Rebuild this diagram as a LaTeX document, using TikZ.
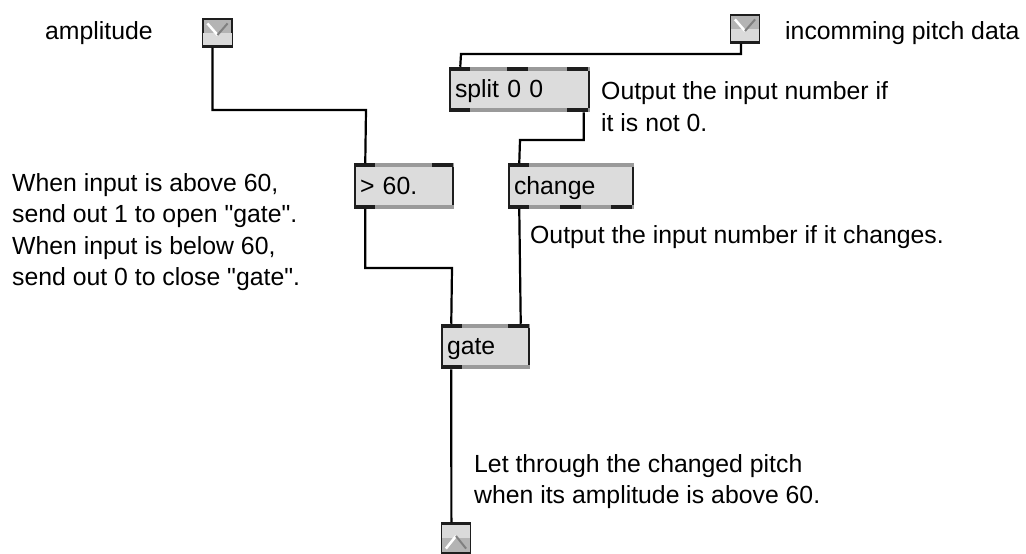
\documentclass[tikz,border=0pt]{standalone}
\usepackage{fontspec}
\setmainfont{Liberation Sans}[Ligatures=TeXOff]
\definecolor{objfill}{HTML}{DCDCDC}
\definecolor{tabgrey}{HTML}{9A9A9A}
\definecolor{tabdark}{HTML}{1E1E1E}
\definecolor{iogrey}{HTML}{B4B4B4}
\definecolor{iolight}{HTML}{DADADA}
\begin{document}
\begin{tikzpicture}[x=1pt,y=-1pt,
  every node/.style={font=\fontsize{24.8}{31.5}\selectfont},
  obj/.style={draw=tabdark, line width=1.5pt, fill=objfill, minimum height=44pt, inner xsep=5pt, inner ysep=0pt, text height=20pt, text depth=4pt, align=left},
  io/.style={draw=tabdark, line width=1.2pt, fill=iogrey, minimum width=29pt, minimum height=28pt, inner sep=0pt},
  cord/.style={line width=2.2pt},
  txt/.style={anchor=base west, inner sep=0pt, align=left}]
\useasboundingbox (0,0) rectangle (1026,554);

% boxes
\node[io] (amp) at (217.5,33) {};
\node[io] (pitch) at (745,29) {};
\node[io, minimum height=30pt] (out) at (456,538) {};
\node[obj, text width=129pt] (split) at (519.5,89.5) {split 0 0};
\node[obj, text width=88pt] (gt) at (404,186) {> 60.};
\node[obj, text width=114pt] (change) at (571,186) {change};
\node[obj, text width=77pt] (gate) at (485.5,346.5) {gate};

% inlet / outlet tabs
\foreach \b in {split,gt,change,gate} {
  \fill[tabgrey] (\b.north west) rectangle ([yshift=-4pt]\b.north east);
  \fill[tabgrey] (\b.south west) rectangle ([yshift=4pt]\b.south east);
}
\foreach \b/\o in {split/0, split/58, split/118, gt/0, gt/78, change/0, gate/0, gate/67}
  \fill[tabdark] ([xshift=\o pt]\b.north west) rectangle ++(21,4);
\foreach \b/\o in {split/0, split/118, gt/0, change/0, change/52, change/103, gate/0}
  \fill[tabdark] ([xshift=\o pt]\b.south west) rectangle ++(21,-4);

% number boxes
\foreach \b in {amp,pitch} {
  \fill[iolight] ([xshift=1pt]\b.west) rectangle ([xshift=-1pt]\b.south east);
  \draw[white, line width=2.5pt] ([xshift=5pt,yshift=-5pt]\b.north west) -- ([yshift=-2pt]\b.center);
  \draw[gray, line width=2pt] ([yshift=-2pt]\b.center) -- ([xshift=-5pt,yshift=-5pt]\b.north east);
  \fill[tabdark] (\b.south west) rectangle ([yshift=3pt]\b.south east);
}
\fill[iolight] ([xshift=1pt]out.north west) rectangle ([xshift=-1pt]out.east);
\draw[white, line width=2.5pt] ([xshift=5pt,yshift=5pt]out.south west) -- ([yshift=2pt]out.center);
\draw[gray, line width=2pt] ([yshift=2pt]out.center) -- ([xshift=-5pt,yshift=5pt]out.south east);
\fill[tabdark] (out.north west) rectangle ([yshift=-3pt]out.north east);

% patch cords
\node[coordinate] (c1) at (366,110) {};
\node[coordinate] (c2) at (461,54) {};
\node[coordinate] (c3) at (520,140) {};
\node[coordinate] (c4) at (452,268) {};
\draw[cord] ([xshift=10pt]amp.south west) |- (c1) -- ([xshift=11pt]gt.north west);
\draw[cord] ([xshift=11pt]pitch.south west) |- (c2) -- ([xshift=11pt]split.north west);
\draw[cord] ([xshift=-6pt]split.south east) |- (c3) -- ([xshift=11pt]change.north west);
\draw[cord] ([xshift=11pt]gt.south west) |- (c4) -- ([xshift=10pt]gate.north west);
\draw[cord] ([xshift=11pt]change.south west) -- ([xshift=-9pt]gate.north east);
\draw[cord] ([xshift=10pt]gate.south west) -- ([xshift=10.5pt]out.north west);

% comments (base = baseline of the last line)
\node[txt] (lamp) at (45,39) {amplitude};
\node[txt] (lpitch) at (785,39) {incomming pitch data};
\node[txt] (lsplit) at (601,131) {Output the input number if\\it is not 0.};
\node[txt] (lgt) at (12,285.5) {When input is above 60,\\send out 1 to open "gate".\\When input is below 60,\\send out 0 to close "gate".};
\node[txt] (lchange) at (530,243) {Output the input number if it changes.};
\node[txt] (lgate) at (474,503.5) {Let through the changed pitch\\when its amplitude is above 60.};

\end{tikzpicture}
\end{document}
